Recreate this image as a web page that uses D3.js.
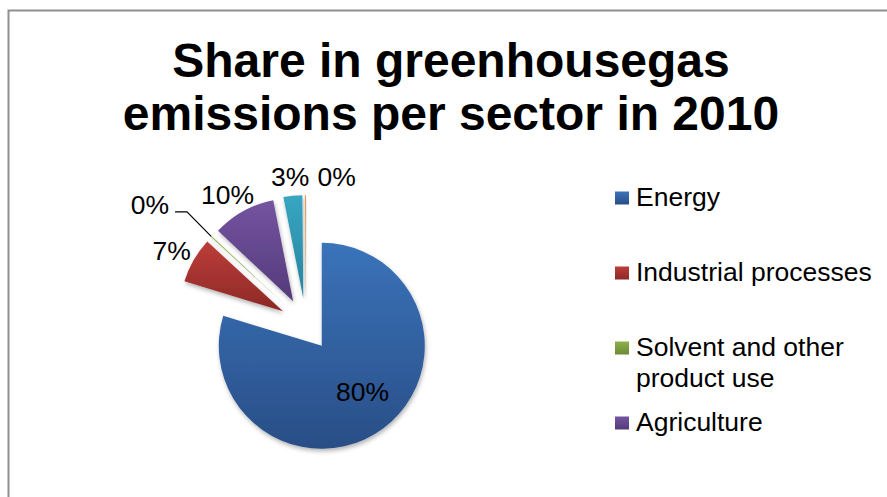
<!DOCTYPE html>
<html>
<head>
<meta charset="utf-8">
<script src="https://cdn.jsdelivr.net/npm/d3@7/dist/d3.min.js"></script>
<style>
  html, body { margin: 0; padding: 0; background: #ffffff; }
  svg { display: block; }
  text { font-family: "Liberation Sans", Arial, sans-serif; fill: #000; }
</style>
</head>
<body>
<svg id="chart" width="887" height="497"></svg>
<script>
// ---- data ----
const titleLines = ["Share in greenhousegas", "emissions per sector in 2010"];
const categories = ["Energy", "Industrial processes", "Solvent and other product use", "Agriculture", "Waste", "Other"];
const values = [79.7, 7.15, 0.15, 9.9, 2.95, 0.15];
const colorsLight = ["#3a73ba", "#bd3d39", "#8db04a", "#7454a0", "#38a6c2", "#f0923f"];
const colorsDark  = ["#294e86", "#8c2926", "#6c8937", "#543a7a", "#26849e", "#c0702c"];

// ---- layout ----
const W = 887, H = 497;
const svg = d3.select("#chart");
const cx = 306, cy = 324.5, R = 103, explode = 26.5;
const fontSize = 26.5;

svg.append("rect").attr("width", W).attr("height", H).attr("fill", "#fff");

const defs = svg.append("defs");
const shadow = defs.append("filter").attr("id", "shadow")
  .attr("x", "-20%").attr("y", "-20%").attr("width", "140%").attr("height", "140%");
shadow.append("feDropShadow").attr("dx", 1).attr("dy", 2.5)
  .attr("stdDeviation", 2.2).attr("flood-color", "#000").attr("flood-opacity", 0.3);

categories.forEach((c, i) => {
  const g = defs.append("linearGradient").attr("id", "grad" + i)
    .attr("x1", 0).attr("y1", 0).attr("x2", 0).attr("y2", 1);
  g.append("stop").attr("offset", "0%").attr("stop-color", colorsLight[i]);
  g.append("stop").attr("offset", "100%").attr("stop-color", colorsDark[i]);
});

// border of the chart area
svg.append("rect")
  .attr("x", 8.5).attr("y", 10.5).attr("width", W + 20).attr("height", H + 20)
  .attr("fill", "none").attr("stroke", "#8f8f8f").attr("stroke-width", 2);

// title
svg.append("text")
  .attr("text-anchor", "middle")
  .attr("font-size", 48).attr("font-weight", "bold")
  .selectAll("tspan").data(titleLines).join("tspan")
  .attr("x", 451).attr("y", (d, i) => 77 + i * 53)
  .text(d => d);

// pie
const total = d3.sum(values);
const pct = d3.format(".0%");
const pie = d3.pie().sort(null).value(d => d).startAngle(0).endAngle(2 * Math.PI);
const arcs = pie(values);
const arc = d3.arc().innerRadius(0).outerRadius(R);
const mid = a => (a.startAngle + a.endAngle) / 2;
const dirOf = a => [Math.sin(mid(a)), -Math.cos(mid(a))];

const pieG = svg.append("g").attr("transform", `translate(${cx},${cy})`);
pieG.selectAll("path").data(arcs).join("path")
  .attr("transform", a => { const d = dirOf(a); return `translate(${d[0] * explode},${d[1] * explode})`; })
  .attr("d", arc)
  .attr("fill", (a, i) => `url(#grad${i})`)
  .attr("filter", "url(#shadow)");

// labels
const labelG = svg.append("g").attr("font-size", fontSize);
const measure = svg.append("text").attr("font-size", fontSize).attr("visibility", "hidden");
const textWidth = s => { measure.text(s); return measure.node().getComputedTextLength(); };
const boxH = 26, gap = 6, capHalf = 9.5;
const placed = [];
arcs.forEach((a, i) => {
  const share = a.value / total;
  const label = pct(share);
  const d = dirOf(a);
  const w = textWidth(label);
  const tiny = share < 0.005;
  if (share >= 0.2) {
    // big slice: label inside
    const r = R * 0.6;
    const x = cx + d[0] * (explode + r), y = cy + d[1] * (explode + r);
    labelG.append("text").attr("x", x + 4).attr("y", y - 4 + capHalf).attr("text-anchor", "middle").text(label);
    return;
  }
  if (tiny && i < arcs.length - 1) {
    // tiny slice between labelled neighbours: pulled out on a leader line
    const sx = cx + d[0] * (explode + R), sy = cy + d[1] * (explode + R);
    const ex = cx + d[0] * (explode + R + 33), ey = cy + d[1] * (explode + R + 36);
    const side = d[0] < 0 ? -1 : 1;
    const hx = ex + side * 12;
    labelG.append("path")
      .attr("d", `M${sx},${sy}L${ex},${ey}L${hx},${ey}`)
      .attr("fill", "none").attr("stroke", "#000").attr("stroke-width", 1.2);
    labelG.append("text").attr("x", hx + side * 6).attr("y", ey + 2)
      .attr("text-anchor", side < 0 ? "end" : "start").text(label);
    return;
  }
  let x = cx + d[0] * (explode + R) + d[0] * (w / 2 + gap);
  let y = cy + d[1] * (explode + R) + d[1] * (boxH / 2 + gap);
  const prev = placed[placed.length - 1];
  if (prev && Math.abs(prev.x - x) < (prev.w + w) / 2 + 8 && Math.abs(prev.y - y) < boxH) {
    x = prev.x + (prev.w + w) / 2 + 8;
  }
  placed.push({ x, y, w });
  labelG.append("text").attr("x", x).attr("y", y + capHalf).attr("text-anchor", "middle").text(label);
});
measure.remove();

// legend
const legX = 615, legY0 = 198, legStep = 75, legMaxW = 245;
const legend = svg.append("g").attr("font-size", fontSize);
categories.forEach((c, i) => {
  const y = legY0 + i * legStep;
  if (y > H) return;
  legend.append("rect").attr("x", legX).attr("y", y - 6.5).attr("width", 14).attr("height", 13)
    .attr("fill", `url(#grad${i})`);
  const t = legend.append("text").attr("x", legX + 21).attr("y", y + 8);
  const words = c.split(" ");
  let line = [];
  let ts = t.append("tspan").attr("x", legX + 21).attr("dy", 0);
  words.forEach(wd => {
    line.push(wd);
    ts.text(line.join(" "));
    if (ts.node().getComputedTextLength() > legMaxW && line.length > 1) {
      line.pop();
      ts.text(line.join(" "));
      line = [wd];
      ts = t.append("tspan").attr("x", legX + 21).attr("dy", 31).text(wd);
    }
  });
});
</script>
</body>
</html>
